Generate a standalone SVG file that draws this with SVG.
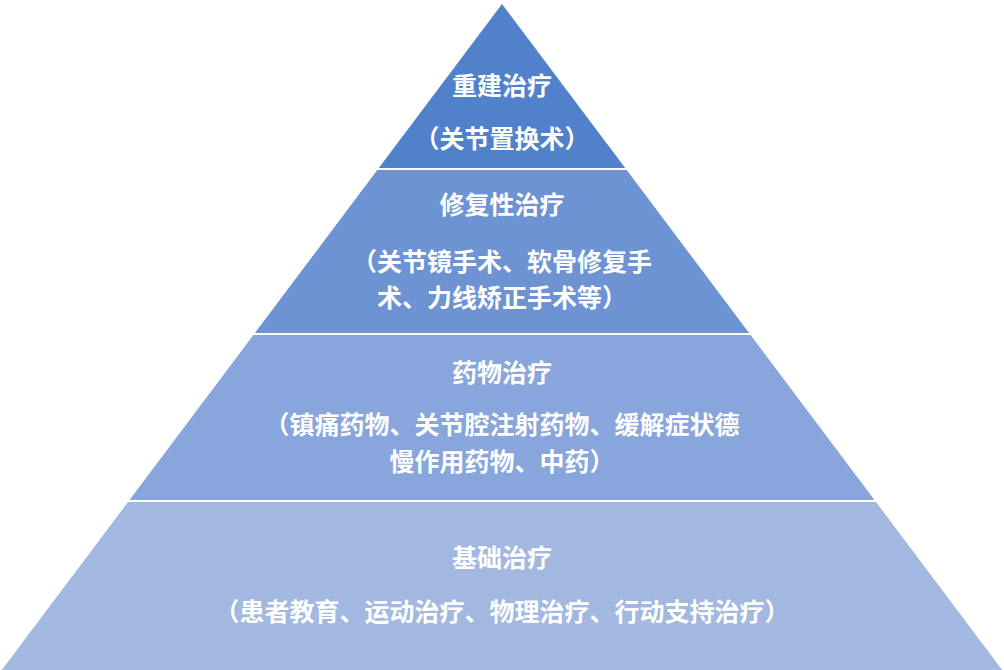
<svg xmlns="http://www.w3.org/2000/svg" width="1004" height="670" viewBox="0 0 1004 670">
<style>
text{font-family:"Microsoft YaHei","Noto Sans CJK SC","Noto Sans",sans-serif;font-weight:bold;font-size:25px;fill:#FFFFFF;text-anchor:middle}
</style>
<rect x="0" y="0" width="1004" height="670" fill="#FFFFFF"/>
<g id="level1">
<polygon points="502,4 625.2,168 378.8,168" fill="#5181CA"/>
<text x="502" y="95">重建治疗</text>
<text x="502" y="148">（关节置换术）</text>
</g>
<g id="level2">
<polygon points="377.3,170 626.7,170 749.1,333 254.9,333" fill="#6D93D2"/>
<text x="502" y="214">修复性治疗</text>
<text x="502" y="271">（关节镜手术、软骨修复手</text>
<text x="502" y="307">术、力线矫正手术等）</text>
</g>
<g id="level3">
<polygon points="253.4,335 750.6,335 874.5,500 129.5,500" fill="#88A6DB"/>
<text x="502" y="382">药物治疗</text>
<text x="502" y="434">（镇痛药物、关节腔注射药物、缓解症状德</text>
<text x="502" y="471">慢作用药物、中药）</text>
</g>
<g id="level4">
<polygon points="128,502 876,502 1002.2,670 1.8,670" fill="#A2B8E1"/>
<text x="502" y="567">基础治疗</text>
<text x="502" y="621">（患者教育、运动治疗、物理治疗、行动支持治疗）</text>
</g>
<g id="connectors"/>
</svg>
